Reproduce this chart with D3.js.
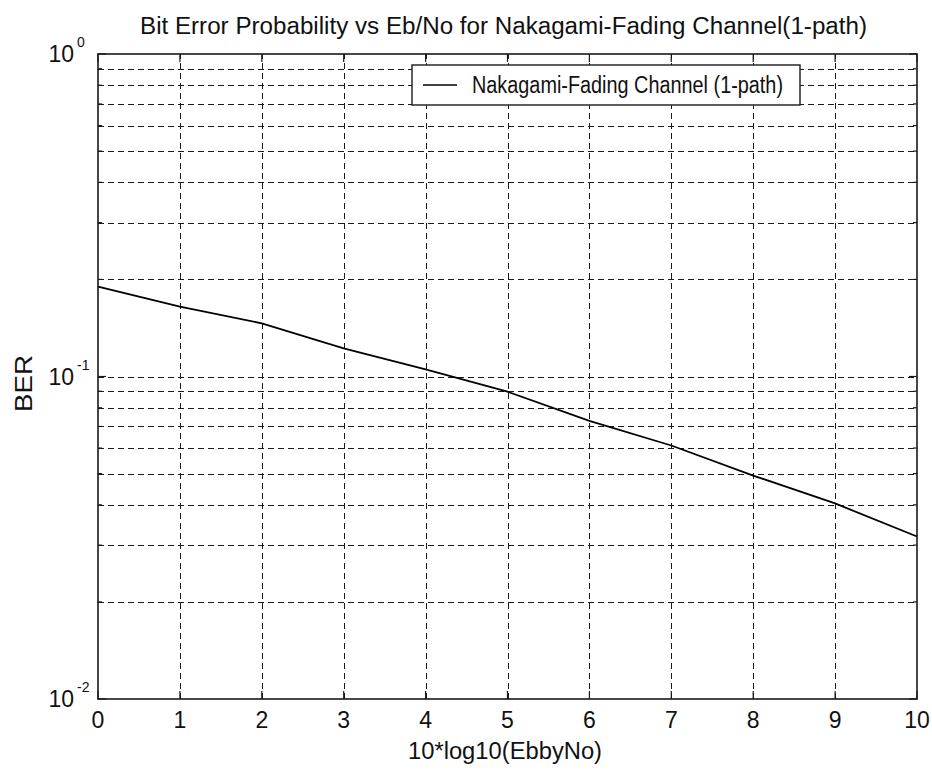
<!DOCTYPE html>
<html>
<head>
<meta charset="utf-8">
<script src="https://cdn.jsdelivr.net/npm/d3@7/dist/d3.min.js"></script>
<style>
  html, body { margin: 0; padding: 0; background: #fff; }
  svg { display: block; }
  text { font-family: "Liberation Sans", Arial, sans-serif; fill: #111; }
</style>
</head>
<body>
<svg id="chart" width="932" height="771"></svg>
<script>
// Eb/No in dB and the simulated bit error rate
const ebNoDb = [0, 1, 2, 3, 4, 5, 6, 7, 8, 9, 10];
const ber = [0.190, 0.1646, 0.1462, 0.1223, 0.1053, 0.0897, 0.0728, 0.0611, 0.0493, 0.0404, 0.0319];

const xTicks = [0, 1, 2, 3, 4, 5, 6, 7, 8, 9, 10];
const yDecades = [0.01, 0.1, 1];
const yDecadeExponents = ["-2", "-1", "0"];
const yMinorMultipliers = [2, 3, 4, 5, 6, 7, 8, 9];

const titleText = "Bit Error Probability vs Eb/No for Nakagami-Fading Channel(1-path)";
const xLabelText = "10*log10(EbbyNo)";
const yLabelText = "BER";
const legendText = "Nakagami-Fading Channel (1-path)";

const margin = { left: 98, right: 15, top: 54, bottom: 72 };
const W = 932, H = 771;
const svg = d3.select("#chart");

const x = d3.scaleLinear().domain([0, 10]).range([margin.left, W - margin.right]);
const y = d3.scaleLog().domain([0.01, 1]).range([H - margin.bottom, margin.top]);

const x0 = x.range()[0], x1 = x.range()[1];
const y0 = y.range()[0], y1 = y.range()[1];

// minor grid values on the log axis
const yMinor = [];
yDecades.slice(0, -1).forEach(d => yMinorMultipliers.forEach(m => yMinor.push(d * m)));
const yGridAll = yMinor.concat(yDecades.slice(1, -1));

const dash = "6,4";
const ink = "#1a1a1a";
const fs = 23;

// horizontal grid
svg.append("g").attr("shape-rendering", "crispEdges")
  .selectAll("line").data(yGridAll).join("line")
  .attr("x1", x0).attr("x2", x1)
  .attr("y1", d => Math.round(y(d)) + 0.5).attr("y2", d => Math.round(y(d)) + 0.5)
  .attr("stroke", ink).attr("stroke-width", 1).attr("stroke-dasharray", dash);

// vertical grid
svg.append("g").attr("shape-rendering", "crispEdges")
  .selectAll("line").data(xTicks.slice(1, -1)).join("line")
  .attr("x1", d => Math.round(x(d)) + 0.5).attr("x2", d => Math.round(x(d)) + 0.5)
  .attr("y1", y0).attr("y2", y1)
  .attr("stroke", ink).attr("stroke-width", 1).attr("stroke-dasharray", dash);

// inward tick marks on all four sides
const majorLen = 8, minorLen = 4;
const ticks = svg.append("g").attr("stroke", ink).attr("stroke-width", 1.2);
xTicks.forEach(v => {
  ticks.append("line").attr("x1", x(v)).attr("x2", x(v)).attr("y1", y0).attr("y2", y0 - majorLen);
  ticks.append("line").attr("x1", x(v)).attr("x2", x(v)).attr("y1", y1).attr("y2", y1 + majorLen);
});
yDecades.forEach(v => {
  ticks.append("line").attr("x1", x0).attr("x2", x0 + majorLen).attr("y1", y(v)).attr("y2", y(v));
  ticks.append("line").attr("x1", x1).attr("x2", x1 - majorLen).attr("y1", y(v)).attr("y2", y(v));
});
yMinor.forEach(v => {
  ticks.append("line").attr("x1", x0).attr("x2", x0 + minorLen).attr("y1", y(v)).attr("y2", y(v));
  ticks.append("line").attr("x1", x1).attr("x2", x1 - minorLen).attr("y1", y(v)).attr("y2", y(v));
});

// plot frame
svg.append("rect")
  .attr("x", x0).attr("y", y1).attr("width", x1 - x0).attr("height", y0 - y1)
  .attr("fill", "none").attr("stroke", ink).attr("stroke-width", 1.6);

// BER curve
const line = d3.line().x((d, i) => x(ebNoDb[i])).y(d => y(d));
svg.append("path").datum(ber)
  .attr("d", line)
  .attr("fill", "none").attr("stroke", "#000").attr("stroke-width", 1.8);

// x tick labels
svg.append("g").selectAll("text").data(xTicks).join("text")
  .attr("x", d => x(d)).attr("y", y0 + 29)
  .attr("text-anchor", "middle").attr("font-size", fs)
  .text(d => d);

// y tick labels: 10 with superscript exponent
const yl = svg.append("g");
yDecades.forEach((v, i) => {
  yl.append("text").attr("x", 74).attr("y", y(v) + 8)
    .attr("text-anchor", "end").attr("font-size", fs).text("10");
  yl.append("text").attr("x", 77).attr("y", y(v) - 7)
    .attr("text-anchor", "start").attr("font-size", 14).text(yDecadeExponents[i]);
});

// title and axis labels
svg.append("text").attr("x", 140).attr("y", 34)
  .attr("font-size", fs).attr("textLength", 727).attr("lengthAdjust", "spacingAndGlyphs")
  .text(titleText);
svg.append("text").attr("x", 408).attr("y", 759)
  .attr("font-size", fs).attr("textLength", 194).attr("lengthAdjust", "spacingAndGlyphs")
  .text(xLabelText);
svg.append("text")
  .attr("transform", `translate(32,412) rotate(-90)`)
  .attr("font-size", fs).attr("textLength", 57).attr("lengthAdjust", "spacingAndGlyphs")
  .text(yLabelText);

// legend
const lg = svg.append("g");
lg.append("rect").attr("x", 412).attr("y", 65).attr("width", 388).attr("height", 40)
  .attr("fill", "#fff").attr("stroke", ink).attr("stroke-width", 1.4);
lg.append("line").attr("x1", 423).attr("x2", 457).attr("y1", 85).attr("y2", 85)
  .attr("stroke", "#000").attr("stroke-width", 1.6);
lg.append("text").attr("x", 472).attr("y", 93)
  .attr("font-size", fs).attr("textLength", 311).attr("lengthAdjust", "spacingAndGlyphs")
  .text(legendText);
</script>
</body>
</html>
